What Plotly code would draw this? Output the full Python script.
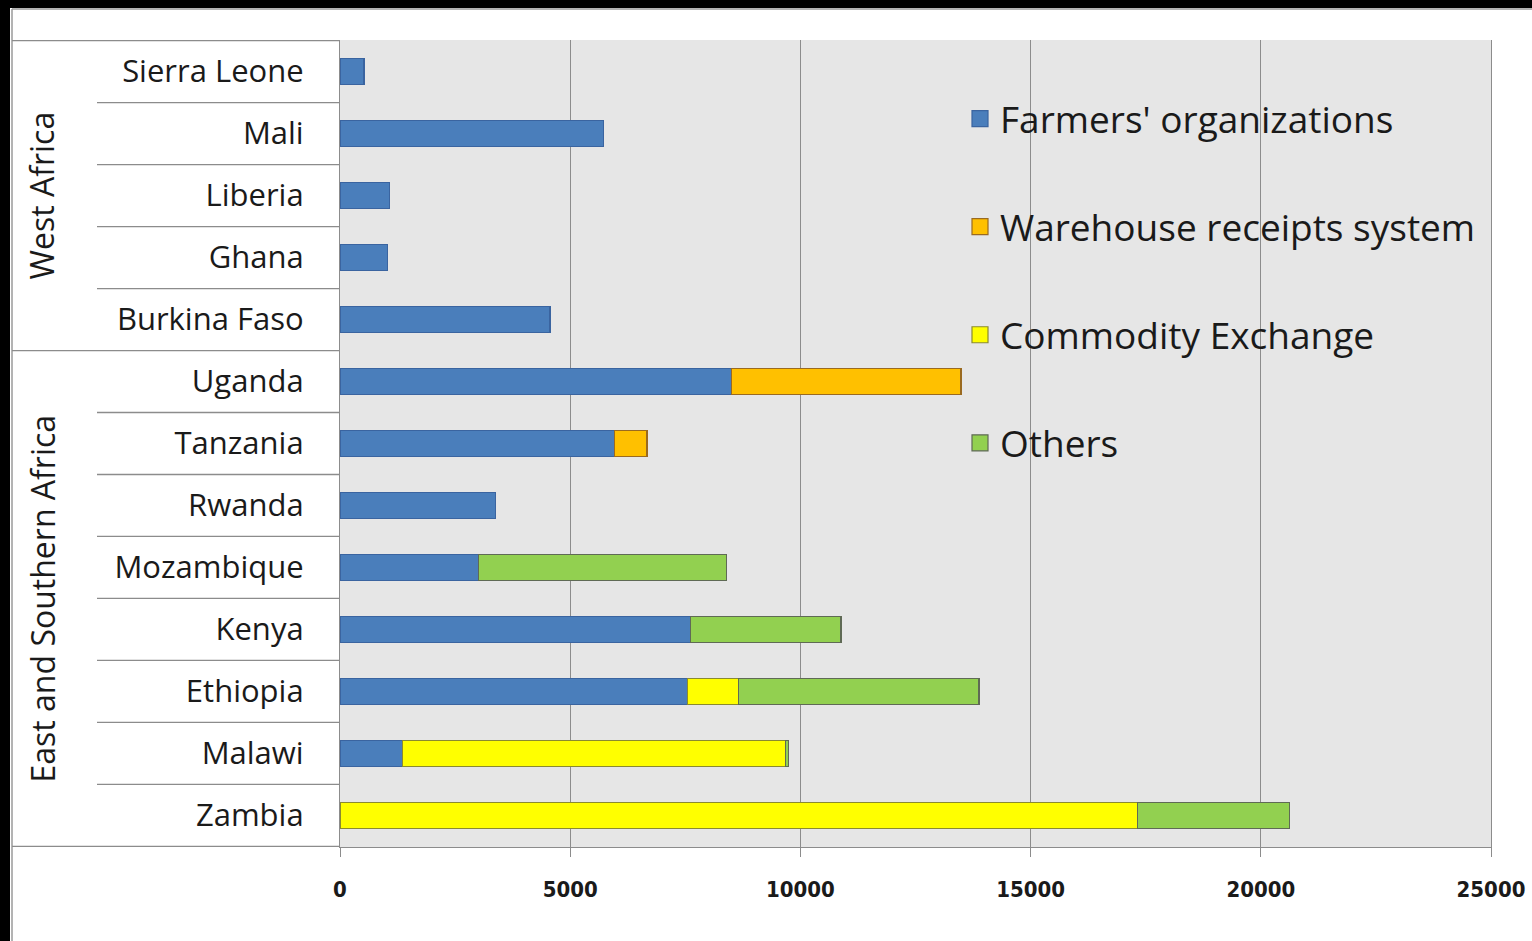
import plotly.graph_objects as go

countries = ["Sierra Leone", "Mali", "Liberia", "Ghana", "Burkina Faso",
             "Uganda", "Tanzania", "Rwanda", "Mozambique", "Kenya",
             "Ethiopia", "Malawi", "Zambia"]
farmers_org = [520, 5730, 1070, 1040, 4560, 8510, 5970, 3370, 3000, 7620, 7540, 1350, None]
warehouse = [None, None, None, None, None, 4980, 700, None, None, None, None, None, None]
commodity = [None, None, None, None, None, None, None, None, None, None, 1110, 8320, 17330]
others = [None, None, None, None, None, None, None, None, 5390, 3260, 5230, 70, 3300]
series_names = ["Farmers' organizations", "Warehouse receipts system",
                "Commodity Exchange", "Others"]
groups = [("West Africa", 0, 4), ("East and Southern Africa", 5, 12)]
x_ticks = [0, 5000, 10000, 15000, 20000, 25000]

fills = ["#4a7ebb", "#ffc000", "#ffff00", "#92d050"]
edges = ["#3a64a0", "#9a6a20", "#8a8a30", "#5f6a55"]

W_FIG, H_FIG = 1532, 941
L, R, T, B = 340, 1491, 40, 847
PW, PH = R - L, B - T

LABEL_FONT = "Open Sans, Noto Sans, sans-serif"


def px_x(p):
    return (p - L) / PW


def px_y(p):
    return (B - p) / PH


fig = go.Figure()
for name, vals, fc, ec in zip(series_names, [farmers_org, warehouse, commodity, others], fills, edges):
    fig.add_trace(go.Bar(
        y=countries, x=vals, orientation="h", name=name,
        legendgroup=name, showlegend=False,
        marker=dict(color=fc, line=dict(color=ec, width=1.2)),
        width=0.42,
    ))
    # legend entry with a larger square swatch
    fig.add_trace(go.Scatter(
        x=[None], y=[None], mode="markers", name=name, legendgroup=name,
        marker=dict(symbol="square", size=22, color=fc, line=dict(color=ec, width=1.2)),
        hoverinfo="skip",
    ))

shapes = []
# black outer strips
shapes.append(dict(type="rect", xref="paper", yref="paper", x0=px_x(-5), x1=px_x(10),
                   y0=px_y(H_FIG + 5), y1=px_y(-5), fillcolor="black", line_width=0, layer="above"))
shapes.append(dict(type="rect", xref="paper", yref="paper", x0=px_x(-5), x1=px_x(W_FIG + 5),
                   y0=px_y(8), y1=px_y(-5), fillcolor="black", line_width=0, layer="above"))
# panel grey border
shapes.append(dict(type="line", xref="paper", yref="paper", x0=px_x(12), x1=px_x(W_FIG + 5),
                   y0=px_y(9), y1=px_y(9), line=dict(color="#9a9a9a", width=1.5)))
shapes.append(dict(type="line", xref="paper", yref="paper", x0=px_x(12), x1=px_x(12),
                   y0=px_y(9), y1=px_y(H_FIG + 5), line=dict(color="#9a9a9a", width=1.5)))
# left table lines
sep = "#8c8c8c"
for i in range(len(countries) - 1):
    y = i + 0.5
    is_group_edge = any(g[2] == i for g in groups[:-1])
    x0 = px_x(12) if is_group_edge else px_x(97)
    shapes.append(dict(type="line", xref="paper", yref="y", x0=x0, x1=0, y0=y, y1=y,
                       line=dict(color=sep, width=1.3)))
shapes.append(dict(type="line", xref="paper", yref="y", x0=px_x(12), x1=0, y0=-0.5, y1=-0.5,
                   line=dict(color=sep, width=1.3)))
shapes.append(dict(type="line", xref="paper", yref="y", x0=px_x(12), x1=0,
                   y0=len(countries) - 0.5, y1=len(countries) - 0.5,
                   line=dict(color=sep, width=1.3)))

annotations = []
for gname, i0, i1 in groups:
    annotations.append(dict(
        text=gname, xref="paper", yref="y", x=px_x(42), y=(i0 + i1) / 2,
        showarrow=False, textangle=-90, xanchor="center", yanchor="middle",
        font=dict(family=LABEL_FONT, size=32, color="#1a1a1a"),
    ))

fig.update_layout(
    width=W_FIG, height=H_FIG,
    margin=dict(l=L, r=W_FIG - R, t=T, b=H_FIG - B, pad=0, autoexpand=False),
    paper_bgcolor="white", plot_bgcolor="#e6e6e6",
    barmode="stack", bargap=0.58,
    shapes=shapes, annotations=annotations,
    showlegend=True,
    legend=dict(
        x=px_x(960), y=px_y(88), xanchor="left", yanchor="top",
        bgcolor="rgba(0,0,0,0)", traceorder="grouped", tracegroupgap=57,
        font=dict(family=LABEL_FONT, size=37, color="#1a1a1a"),
        itemwidth=30, itemsizing="trace",
    ),
    xaxis=dict(
        range=[0, 25000], tickvals=x_ticks, ticktext=[str(v) for v in x_ticks],
        showgrid=True, gridcolor="#8c8c8c", gridwidth=1,
        showline=True, linecolor="#8c8c8c", linewidth=1.3,
        ticks="outside", ticklen=9, tickcolor="#8c8c8c", tickwidth=1.3,
        ticklabelstandoff=13,
        tickfont=dict(family="DejaVu Sans Condensed, DejaVu Sans", size=22, color="#1a1a1a",
                      weight="bold"),
        zeroline=False,
    ),
    yaxis=dict(
        categoryorder="array", categoryarray=countries, autorange="reversed",
        showgrid=False, showline=True, mirror=True, linecolor="#8c8c8c", linewidth=1.3,
        ticks="", ticklabelstandoff=29,
        tickfont=dict(family=LABEL_FONT, size=31, color="#1a1a1a"),
    ),
)

fig.write_html(
    "out.html",
    config={"displayModeBar": False},
    post_script="document.body.style.margin='0';document.body.style.overflow='hidden';",
)
